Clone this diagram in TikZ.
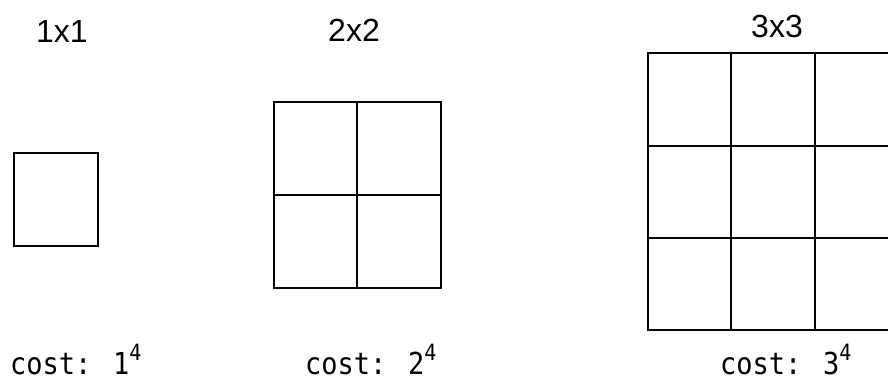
\documentclass[tikz,border=0pt]{standalone}
\usepackage{fontspec}
\setmainfont{Liberation Sans}
\newfontfamily\codefont{DejaVu Sans Mono}
\newcommand{\costtext}[1]{\scalebox{1}[1.12]{cost: #1\raisebox{12pt}{\fontsize{20}{22}\selectfont 4}}}
\begin{document}
\begin{tikzpicture}[x=1pt,y=-1pt,
  gridline/.style={line width=2pt,black},
  title/.style={font=\fontsize{32}{36}\selectfont, anchor=base, inner sep=0pt},
  costlbl/.style={font=\codefont\fontsize{27}{30}\selectfont, anchor=base west, inner sep=0pt}]
\useasboundingbox[fill=white] (0,0) rectangle (888,379);
\clip (0,0) rectangle (888,379);
% titles
\node[title] (t1) at (62,43) {1x1};
\node[title] (t2) at (354,42) {2x2};
\node[title] (t3) at (777,38) {3x3};
% 1x1
\draw[gridline] (14,153) rectangle (98,246);
% 2x2
\draw[gridline] (274,102) rectangle (441,288);
\draw[gridline] (357,102) -- (357,288);
\draw[gridline] (274,195) -- (441,195);
% 3x3
\draw[gridline] (648,53) rectangle (898,330);
\draw[gridline] (731,53) -- (731,330);
\draw[gridline] (815,53) -- (815,330);
\draw[gridline] (648,146) -- (898,146);
\draw[gridline] (648,238) -- (898,238);
% costs
\node[costlbl] (c1) at (10,374) {\costtext{1}};
\node[costlbl] (c2) at (305,374) {\costtext{2}};
\node[costlbl] (c3) at (720,374) {\costtext{3}};
\end{tikzpicture}
\end{document}
